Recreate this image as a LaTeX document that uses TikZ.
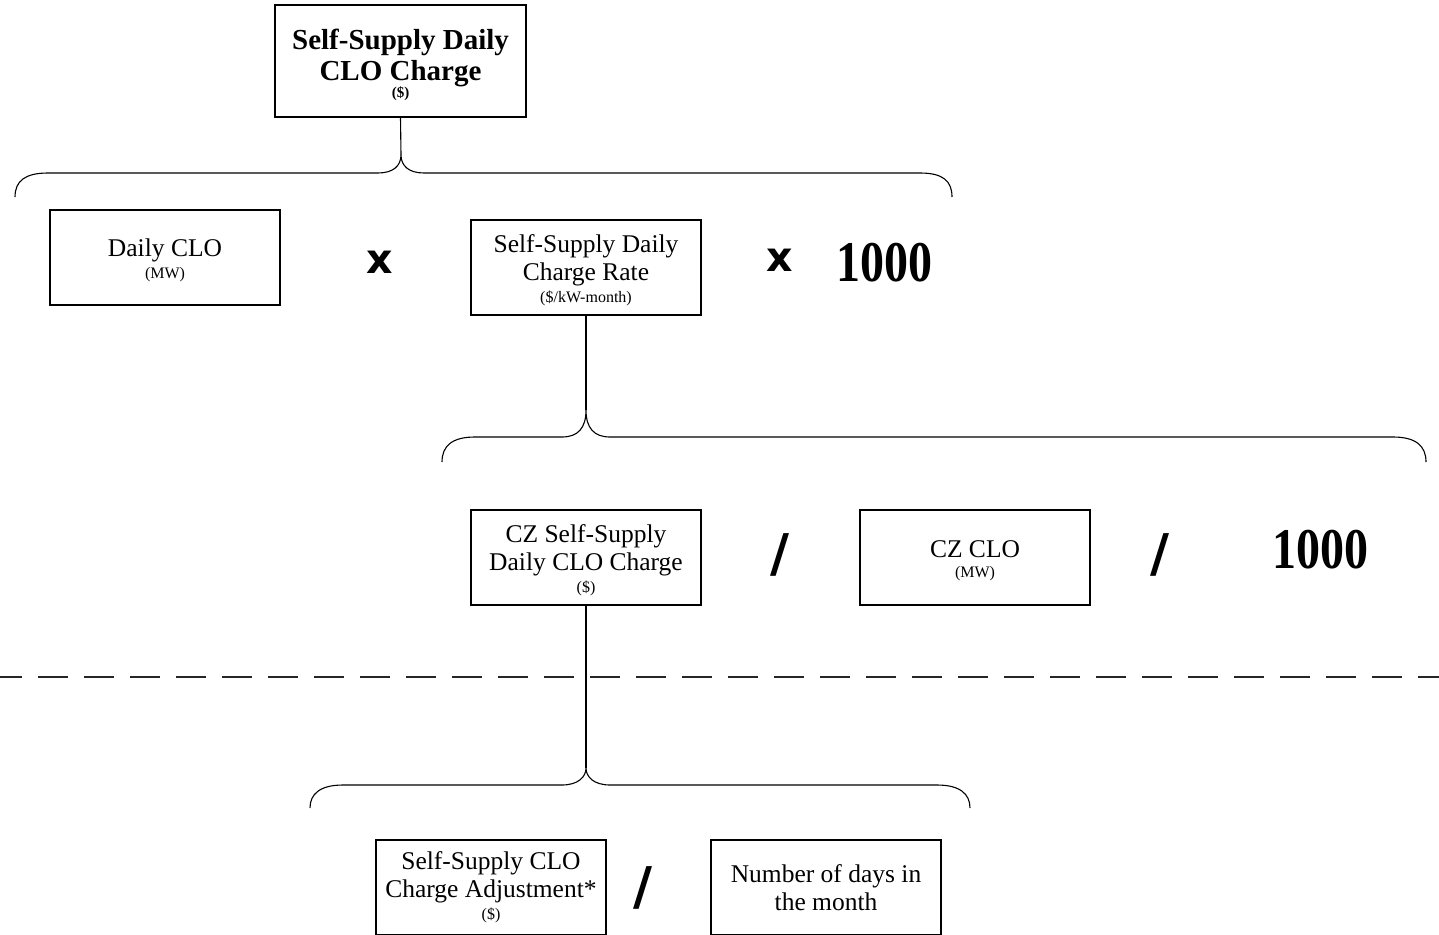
\documentclass[tikz,border=0pt]{standalone}
\usepackage{fontspec}
\setmainfont{Liberation Serif}
\newfontfamily\opfont{DejaVu Sans}
\usepackage{graphicx}
\newcommand\bigt{\fontsize{25.5}{28}\selectfont}
\newcommand\smallt{\fontsize{16}{18}\selectfont}
\newcommand\lowr{\rule{0pt}{23pt}}
\tikzset{
  box/.style={draw, line width=1.1pt, minimum width=230pt, minimum height=95pt, inner sep=0pt, align=center, font=\bigt},
  op/.style={font=\opfont\bfseries\fontsize{41}{41}\selectfont, inner sep=0pt},
  slash/.style={font=\opfont\bfseries\fontsize{52}{52}\selectfont, inner sep=0pt},
  num/.style={font=\bfseries\fontsize{48}{48}\selectfont, inner sep=0pt},
  brace/.style={line width=1.1pt},
  stem/.style={line width=1.1pt},
  sep/.style={line width=2.8pt, color=black!85, dash pattern=on 30pt off 16pt, dash phase=7.6pt}
}
\begin{document}
\begin{tikzpicture}[x=1pt, y=-1pt]
\useasboundingbox (0,0) rectangle (1439,934);
% level 0
\node[box, minimum width=251pt, minimum height=112pt, font=\bfseries\fontsize{29}{31}\selectfont] (total) at (400.5,61)
  {\rule{0pt}{28pt}Self-Supply Daily\\CLO Charge\\[-14pt]{\fontsize{15}{16}\selectfont (\$)}};
% level 1
\node[box] (daily) at (165,257.5) {\lowr Daily CLO\\[-6pt]{\smallt (MW)}};
\node[op] (x1) at (380,262) {x};
\node[box] (rate) at (586,267.5) {\lowr Self-Supply Daily\\Charge Rate\\[-6pt]{\smallt (\$/kW-month)}};
\node[op] (x2) at (780,260) {x};
\node[num] (k1) at (884,263) {\scalebox{1}[1.2]{1000}};
% level 2
\node[box] (czcharge) at (586,557.5) {\lowr CZ Self-Supply\\Daily CLO Charge\\[-6pt]{\smallt (\$)}};
\node[slash] (d1) at (780,555) {/};
\node[box] (czclo) at (975,557.5) {\lowr CZ CLO\\[-8pt]{\smallt (MW)}};
\node[slash] (d2) at (1160,555) {/};
\node[num] (k2) at (1320,550) {\scalebox{1}[1.2]{1000}};
% level 3
\node[box] (adj) at (491,887.5) {Self-Supply CLO\\Charge Adjustment*\\[-6pt]{\smallt (\$)}};
\node[slash] (d3) at (643,888) {/};
\node[box] (days) at (826,887.5) {Number of days in\\the month};
% brace coordinates
\coordinate (c1) at (401,155);
\coordinate (b1l) at (15,197);
\coordinate (b1r) at (952,197);
\coordinate (c2) at (586,410);
\coordinate (b2l) at (442,462);
\coordinate (b2r) at (1426,462);
\coordinate (c3) at (586,768);
\coordinate (b3l) at (310,808);
\coordinate (b3r) at (970,808);
\coordinate (dl) at (0,677);
\coordinate (dr) at (1439,677);
% separator
\draw[sep] (dl) -- (dr);
% stems
\draw[stem] (total.south) -- (c1);
\draw[stem] (rate.south) -- (c2);
\draw[stem] (czcharge.south) -- (c3);
% braces
\draw[brace] (b1l) .. controls (15,181) and (25,173) .. (48,173) -- (378,173)
  .. controls (393,173) and (401,166) .. (c1)
  .. controls (401,166) and (409,173) .. (424,173) -- (920,173)
  .. controls (943,173) and (952,181) .. (b1r);
\draw[brace] (b2l) .. controls (442,446) and (452,437) .. (475,437) -- (562,437)
  .. controls (578,437) and (586,428) .. (c2)
  .. controls (586,428) and (594,437) .. (610,437) -- (1393,437)
  .. controls (1416,437) and (1426,446) .. (b2r);
\draw[brace] (b3l) .. controls (310,794) and (320,785) .. (343,785) -- (562,785)
  .. controls (578,785) and (586,777) .. (c3)
  .. controls (586,777) and (594,785) .. (610,785) -- (937,785)
  .. controls (960,785) and (970,794) .. (b3r);
\end{tikzpicture}
\end{document}
